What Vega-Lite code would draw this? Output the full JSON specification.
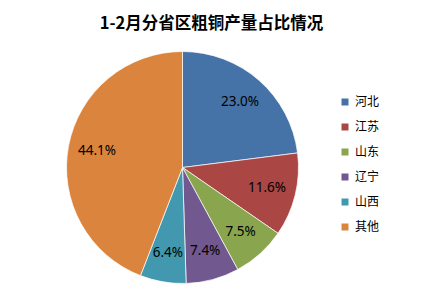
{
  "$schema": "https://vega.github.io/schema/vega-lite/v6.json",
  "width": 235,
  "height": 235,
  "autosize": {"type": "none"},
  "padding": {"left": 65, "top": 50, "right": 121, "bottom": 16},
  "background": "white",
  "title": {
    "text": "1-2月分省区粗铜产量占比情况",
    "font": "Noto Sans CJK SC",
    "fontSize": 16.5,
    "fontWeight": "bold",
    "color": "#000000",
    "anchor": "middle",
    "dx": 29,
    "offset": 18
  },
  "data": {
    "values": [
      {"region": "河北", "value": 23.0, "label": "23.0%", "order": 1},
      {"region": "江苏", "value": 11.6, "label": "11.6%", "order": 2},
      {"region": "山东", "value": 7.5, "label": "7.5%", "order": 3},
      {"region": "辽宁", "value": 7.4, "label": "7.4%", "order": 4},
      {"region": "山西", "value": 6.4, "label": "6.4%", "order": 5},
      {"region": "其他", "value": 44.1, "label": "44.1%", "order": 6}
    ]
  },
  "encoding": {
    "theta": {"field": "value", "type": "quantitative", "stack": true},
    "order": {"field": "order", "type": "quantitative"},
    "color": {
      "field": "region",
      "type": "nominal",
      "scale": {
        "domain": ["河北", "江苏", "山东", "辽宁", "山西", "其他"],
        "range": ["#4572A7", "#AA4643", "#89A54E", "#71588F", "#4198AF", "#DB843D"]
      },
      "legend": {
        "title": null,
        "orient": "none",
        "legendX": 274,
        "legendY": 46,
        "symbolType": "square",
        "symbolSize": 49,
        "symbolStrokeWidth": 0,
        "labelFont": "Noto Sans CJK SC",
        "labelFontSize": 12,
        "labelColor": "#000000",
        "rowPadding": 13,
        "labelOffset": 4
      }
    }
  },
  "layer": [
    {
      "mark": {"type": "arc", "outerRadius": 116, "stroke": "white", "strokeWidth": 0.7}
    },
    {
      "mark": {"type": "text", "radius": 87, "font": "Noto Sans", "fontSize": 13.5, "color": "#000000"},
      "encoding": {
        "text": {"field": "label", "type": "nominal"},
        "color": {"value": "#000000"}
      }
    }
  ],
  "config": {"view": {"stroke": null}}
}
